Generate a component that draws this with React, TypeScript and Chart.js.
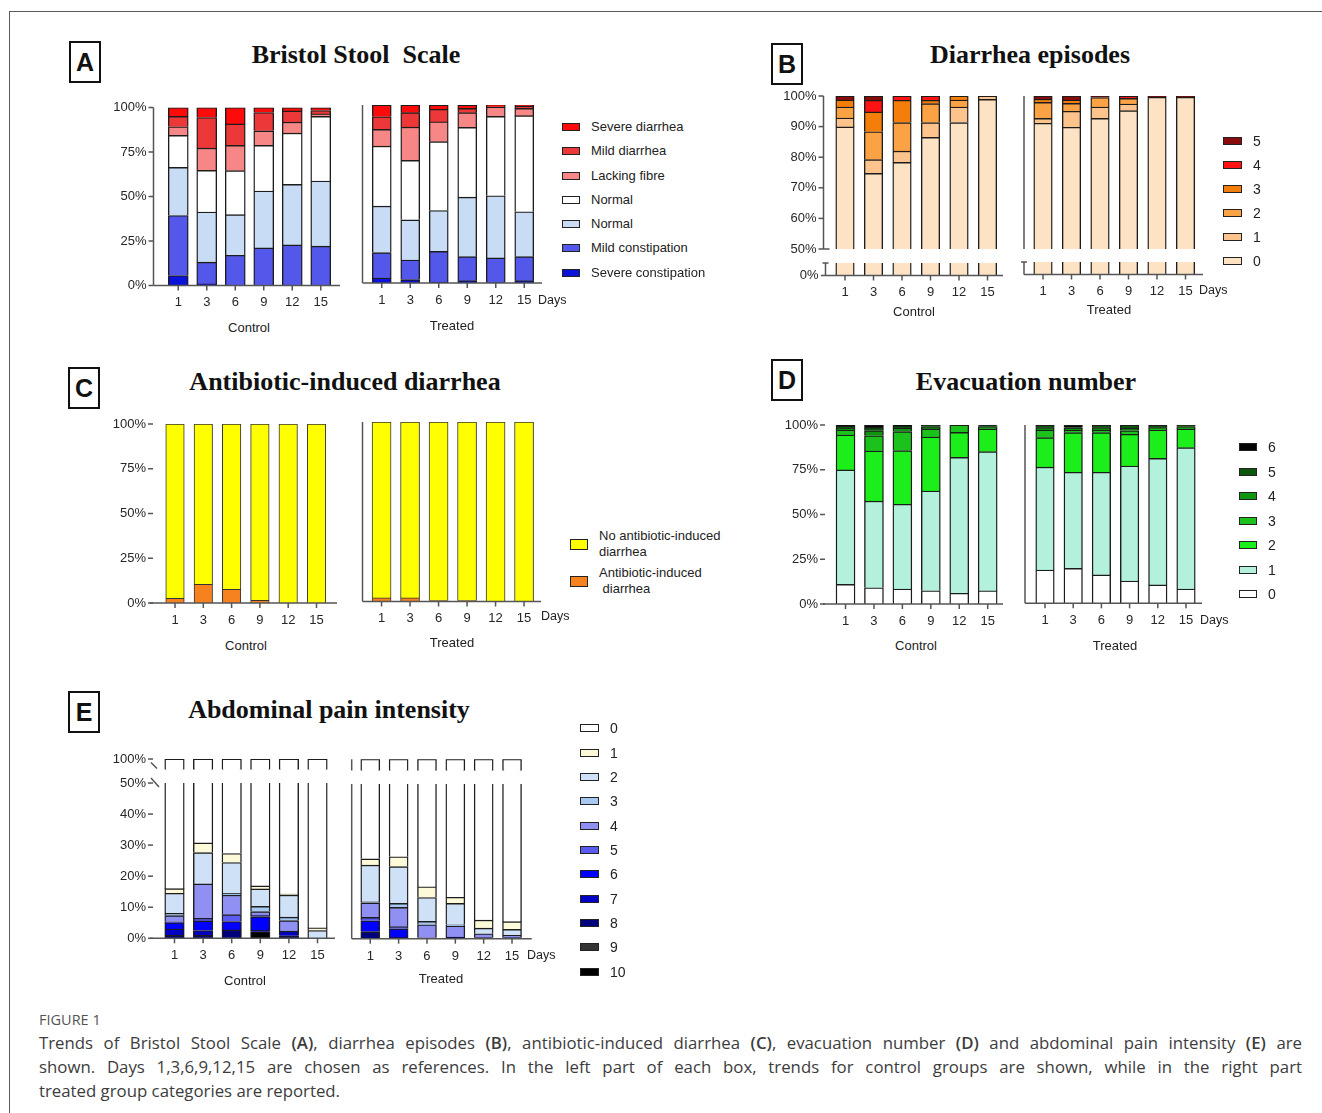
import React, { useEffect, useRef } from "react";
import { Chart, registerables } from "chart.js";
Chart.register(...registerables);

const DAYS = ["1", "3", "6", "9", "12", "15"];

// ---------- A: Bristol Stool Scale (rows bottom -> top) ----------
const BRISTOL_CATEGORIES = ["Severe constipation", "Mild constipation", "Normal", "Normal", "Lacking fibre", "Mild diarrhea", "Severe diarrhea"];
const BRISTOL_COLORS = ["#0b12d9", "#5458ea", "#c8dcf5", "#ffffff", "#f78787", "#ec3838", "#fd0a0a"];
const BRISTOL_CONTROL = [
  [5.6, 0.9, 0, 0, 0, 0],
  [33.7, 12.2, 17.0, 21.1, 22.8, 22.1],
  [27.1, 28.2, 22.8, 32.0, 34.0, 36.6],
  [17.9, 23.4, 24.7, 25.6, 28.8, 36.3],
  [4.9, 12.5, 14.2, 8.2, 6.2, 1.4],
  [5.8, 17.2, 12.1, 10.3, 6.3, 1.9],
  [5.0, 5.6, 9.2, 2.8, 1.9, 1.7],
];
const BRISTOL_TREATED = [
  [2.8, 1.9, 0.5, 1.3, 0.3, 1.3],
  [14.3, 11.0, 17.3, 13.5, 13.8, 13.5],
  [26.1, 22.6, 22.9, 33.4, 34.9, 25.2],
  [33.7, 33.4, 38.7, 39.2, 44.6, 54.0],
  [9.4, 18.7, 11.2, 8.3, 5.3, 4.1],
  [7.1, 8.1, 7.0, 2.4, 0.6, 1.3],
  [6.6, 4.3, 2.4, 1.9, 0.5, 0.6],
];

// ---------- B: Diarrhea episodes (rows 0..5, bottom -> top) ----------
const EPISODE_CATEGORIES = ["0", "1", "2", "3", "4", "5"];
const EPISODE_COLORS = ["#fde2c4", "#fcc48c", "#fba244", "#f57d0a", "#fe1212", "#8a0b0b"];
const EPISODES_CONTROL = [
  [89.9, 74.7, 78.3, 86.5, 91.3, 98.9],
  [2.9, 4.5, 3.7, 4.8, 5.1, 1.1],
  [3.6, 9.1, 9.3, 6.2, 2.3, 0],
  [2.3, 6.5, 7.3, 1.1, 1.3, 0],
  [0, 3.8, 1.4, 1.4, 0, 0],
  [1.3, 1.4, 0, 0, 0, 0],
];
const EPISODES_TREATED = [
  [91.1, 89.8, 92.7, 95.2, 99.6, 99.6],
  [1.6, 5.2, 3.7, 2.2, 0, 0],
  [5.2, 2.6, 3.1, 1.8, 0, 0],
  [1.1, 1.1, 0, 0, 0, 0],
  [0, 0, 0, 0.8, 0, 0],
  [1.0, 1.3, 0.5, 0, 0.4, 0.4],
];

// ---------- C: Antibiotic-induced diarrhea (bottom -> top) ----------
const AID_CATEGORIES = ["Antibiotic-induced\n diarrhea", "No antibiotic-induced\ndiarrhea"];
const AID_COLORS = ["#f5821f", "#ffff00"];
const AID_CONTROL = [
  [2.6, 10.4, 7.6, 1.5, 0, 0],
  [97.4, 89.6, 92.4, 98.5, 100, 100],
];
const AID_TREATED = [
  [2.0, 2.0, 0.5, 0.5, 0, 0],
  [98.0, 98.0, 99.5, 99.5, 100, 100],
];

// ---------- D: Evacuation number (rows 0..6, bottom -> top) ----------
const EVAC_CATEGORIES = ["0", "1", "2", "3", "4", "5", "6"];
const EVAC_COLORS = ["#ffffff", "#b3f1dd", "#1cee1c", "#1cc21c", "#0e940e", "#0a560a", "#050505"];
const EVAC_CONTROL = [
  [11.0, 9.1, 8.4, 7.4, 6.0, 7.4],
  [63.9, 48.4, 47.3, 55.7, 75.9, 77.7],
  [19.5, 28.0, 30.0, 30.2, 14.0, 12.7],
  [2.8, 8.5, 10.6, 4.5, 4.1, 1.3],
  [1.0, 2.8, 2.0, 1.3, 0, 0],
  [1.0, 1.9, 1.0, 0.9, 0, 0.5],
  [0.8, 1.3, 0.7, 0, 0, 0.4],
];
const EVAC_TREATED = [
  [18.7, 19.6, 15.9, 12.5, 10.3, 8.0],
  [57.7, 53.9, 57.6, 64.5, 71.0, 79.3],
  [16.5, 22.2, 22.2, 17.8, 15.9, 10.5],
  [4.3, 1.5, 1.5, 2.0, 1.3, 1.3],
  [1.3, 0.9, 1.3, 1.3, 0, 0],
  [1.5, 0.5, 1.5, 1.9, 1.5, 0.9],
  [0, 1.4, 0, 0, 0, 0],
];

// ---------- E: Abdominal pain intensity (rows 0..10; 0 is drawn on top) ----------
const PAIN_CATEGORIES = ["0", "1", "2", "3", "4", "5", "6", "7", "8", "9", "10"];
const PAIN_COLORS = ["#ffffff", "#fcfad9", "#cfe1f6", "#a7c8f1", "#9090f2", "#5b5bef", "#0000fe", "#0000c6", "#00007c", "#343434", "#000000"];
const PAIN_CONTROL = [
  [84.0, 69.3, 72.7, 83.1, 85.8, 96.6],
  [1.5, 3.1, 2.9, 1.0, 0.3, 0.9],
  [6.5, 10.1, 9.9, 5.6, 7.1, 2.5],
  [0.7, 0, 0.6, 1.7, 1.1, 0],
  [2.0, 11.1, 6.3, 1.1, 3.4, 0],
  [0.3, 0.8, 2.2, 0.5, 0, 0],
  [2.0, 3.1, 2.7, 4.4, 0, 0],
  [2.0, 1.5, 0, 0.5, 1.5, 0],
  [1.0, 1.0, 2.7, 0, 0.8, 0],
  [0, 0, 0, 0, 0, 0],
  [0, 0, 0, 2.1, 0, 0],
];
const PAIN_TREATED = [
  [74.2, 73.5, 83.2, 86.6, 94.0, 94.5],
  [2.0, 3.2, 3.5, 2.0, 2.6, 2.5],
  [11.9, 11.9, 7.7, 6.9, 1.8, 1.9],
  [0.3, 1.3, 1.1, 0.4, 0, 0],
  [4.7, 6.2, 4.2, 3.6, 1.2, 0.7],
  [1.1, 0.7, 0, 0, 0, 0],
  [3.5, 2.7, 0, 0, 0, 0],
  [0, 0.5, 0, 0, 0, 0],
  [2.3, 0, 0.3, 0.5, 0.4, 0.4],
  [0, 0, 0, 0, 0, 0],
  [0, 0, 0, 0, 0, 0],
];

const TICKS_25 = [0, 25, 50, 75, 100];
const TICKS_B_UPPER = [50, 60, 70, 80, 90, 100];
const TICKS_E_LOWER = [0, 10, 20, 30, 40, 50];

const FONT = "'Liberation Sans', Arial, sans-serif";
const AXIS_COLOR = "#555";
const TICK_SIZE = 13;

type Spec = {
  key: string;
  series: number[][];
  colors: string[];
  plotLeft: number; plotRight: number; plotTop: number; plotBottom: number;
  yMin: number; yMax: number; yTicks: number[];
  yLabels: boolean; yTickMarks: boolean;
  axisX: number; vLine: boolean; cap?: boolean; longTick?: number;
  breakTop?: boolean; breakBottom?: boolean;
  xFrom?: number; xTo?: number; xLabels: boolean;
  barThickness: number; borderWidth?: number; borderColor?: string;
};

function StackChart({ spec }: { spec: Spec }) {
  const ref = useRef<HTMLCanvasElement | null>(null);
  const LBL = 64;
  const TOPPAD = 14;
  const left = Math.floor(spec.plotLeft - LBL);
  const top = Math.floor(spec.plotTop - TOPPAD);
  const right = Math.ceil(Math.max(spec.plotRight, spec.xTo ?? 0) + 6);
  const width = right - left;
  const height = Math.ceil(spec.plotBottom + (spec.xLabels ? 30 : 12) - top);
  const below = height - (spec.plotBottom - top);

  useEffect(() => {
    const canvas = ref.current;
    if (!canvas) return;
    const sp = spec;
    const axesPlugin = {
      id: "customAxes",
      afterDraw(chart: any) {
        const ctx = chart.ctx;
        const xs = chart.scales.x;
        const ys = chart.scales.y;
        const ca = chart.chartArea;
        const ax = sp.axisX - left;
        ctx.save();
        ctx.strokeStyle = AXIS_COLOR;
        ctx.lineWidth = 1.5;
        const line = (x1: number, y1: number, x2: number, y2: number) => {
          ctx.beginPath();
          ctx.moveTo(x1, y1);
          ctx.lineTo(x2, y2);
          ctx.stroke();
        };
        if (sp.vLine) line(ax, ca.top, ax, ca.bottom);
        if (sp.cap) line(ax - 3, ca.top, ax + 3, ca.top);
        if (sp.yTickMarks) {
          sp.yTicks.forEach((v) => {
            const py = ys.getPixelForValue(v);
            line(ax - 5, py, v === sp.longTick ? ax + 6 : ax, py);
          });
        }
        if (sp.breakTop) line(ax - 2, ca.top - 5, ax + 6, ca.top + 4);
        if (sp.breakBottom) line(ax - 2, ca.bottom - 7, ax + 4, ca.bottom - 1);
        if (sp.xFrom != null && sp.xTo != null) {
          line(sp.xFrom - left, ca.bottom, sp.xTo - left, ca.bottom);
          DAYS.forEach((_, i) => {
            const px = xs.getPixelForValue(i);
            line(px, ca.bottom, px, ca.bottom + 5);
          });
        }
        ctx.restore();
      },
    };

    const chart = new Chart(canvas, {
      type: "bar",
      data: {
        labels: DAYS,
        datasets: sp.series.map((row, i) => ({
          data: row.map((v) => (v === 0 ? null : v)),
          backgroundColor: sp.colors[i],
          borderColor: sp.borderColor ?? "#1c1c1c",
          borderWidth: sp.borderWidth ?? 1.4,
          borderSkipped: "start",
          barThickness: sp.barThickness,
          clip: 0,
        })) as any,
      },
      options: {
        animation: false,
        responsive: false,
        maintainAspectRatio: false,
        devicePixelRatio: 1,
        events: [],
        layout: {
          padding: {
            left: 0,
            top: sp.plotTop - top,
            right: width - (sp.plotRight - left),
            bottom: sp.xLabels ? 0 : below,
          },
        },
        plugins: { legend: { display: false }, tooltip: { enabled: false }, title: { display: false } },
        scales: {
          x: {
            stacked: true,
            grid: { display: false, drawTicks: true, tickLength: 9.5 },
            border: { display: false },
            ticks: {
              display: sp.xLabels,
              padding: 0,
              color: "#262626",
              font: { family: FONT, size: TICK_SIZE },
              maxRotation: 0,
              autoSkip: false,
            },
            afterFit: (s: any) => {
              s.height = sp.xLabels ? below : 0;
            },
          },
          y: {
            stacked: true,
            min: sp.yMin,
            max: sp.yMax,
            grid: { display: false, drawTicks: true, tickLength: sp.plotLeft - (sp.axisX - 7) },
            border: { display: false },
            ticks: {
              display: sp.yLabels,
              padding: 0,
              color: "#262626",
              font: { family: FONT, size: TICK_SIZE },
              callback: (v: any) => v + "%",
            },
            afterBuildTicks: (s: any) => {
              s.ticks = sp.yTicks.map((v) => ({ value: v }));
            },
            afterFit: (s: any) => {
              s.width = sp.plotLeft - left;
            },
          },
        },
      } as any,
      plugins: [axesPlugin],
    });
    return () => chart.destroy();
  }, []);

  return (
    <canvas
      ref={ref}
      width={width}
      height={height}
      style={{ position: "absolute", left, top, width, height }}
    />
  );
}

const rev = <T,>(a: T[]) => [...a].reverse();

const SPECS: Spec[] = [
  // A
  {
    key: "a-c", series: BRISTOL_CONTROL, colors: BRISTOL_COLORS,
    plotLeft: 164, plotRight: 335, plotTop: 107.5, plotBottom: 285.5,
    yMin: 0, yMax: 100, yTicks: TICKS_25, yLabels: true, yTickMarks: true,
    axisX: 153.5, vLine: true, xFrom: 153.5, xTo: 340, xLabels: true, barThickness: 20,
  },
  {
    key: "a-t", series: BRISTOL_TREATED, colors: BRISTOL_COLORS,
    plotLeft: 367.5, plotRight: 538.5, plotTop: 105, plotBottom: 283,
    yMin: 0, yMax: 100, yTicks: TICKS_25, yLabels: false, yTickMarks: false,
    axisX: 362.5, vLine: true, xFrom: 362.5, xTo: 542, xLabels: true, barThickness: 19,
  },
  // B
  {
    key: "b-cu", series: EPISODES_CONTROL, colors: EPISODE_COLORS,
    plotLeft: 830.75, plotRight: 1001.75, plotTop: 96, plotBottom: 249,
    yMin: 50, yMax: 100, yTicks: TICKS_B_UPPER, yLabels: true, yTickMarks: true, longTick: 50,
    axisX: 823.5, vLine: true, xLabels: false, barThickness: 18.5,
  },
  {
    key: "b-cl", series: EPISODES_CONTROL, colors: EPISODE_COLORS,
    plotLeft: 830.75, plotRight: 1001.75, plotTop: 263, plotBottom: 275.5,
    yMin: 0, yMax: 4, yTicks: [0], yLabels: true, yTickMarks: false,
    axisX: 825.5, vLine: true, cap: true, xFrom: 821, xTo: 1003, xLabels: true, barThickness: 18.5,
  },
  {
    key: "b-tu", series: EPISODES_TREATED, colors: EPISODE_COLORS,
    plotLeft: 1028.75, plotRight: 1199.75, plotTop: 96, plotBottom: 249,
    yMin: 50, yMax: 100, yTicks: TICKS_B_UPPER, yLabels: false, yTickMarks: false,
    axisX: 1024, vLine: true, xLabels: false, barThickness: 18.5,
  },
  {
    key: "b-tl", series: EPISODES_TREATED, colors: EPISODE_COLORS,
    plotLeft: 1028.75, plotRight: 1199.75, plotTop: 262, plotBottom: 274.5,
    yMin: 0, yMax: 4, yTicks: [0], yLabels: false, yTickMarks: false,
    axisX: 1024, vLine: true, cap: true, xFrom: 1024, xTo: 1203, xLabels: true, barThickness: 18.5,
  },
  // C
  {
    key: "c-c", series: AID_CONTROL, colors: AID_COLORS,
    plotLeft: 160.85, plotRight: 330.65, plotTop: 424, plotBottom: 603,
    yMin: 0, yMax: 100, yTicks: TICKS_25, yLabels: true, yTickMarks: true,
    axisX: 153, vLine: false, xFrom: 150, xTo: 337, xLabels: true, barThickness: 18.5,
    borderWidth: 1, borderColor: "#333",
  },
  {
    key: "c-t", series: AID_TREATED, colors: AID_COLORS,
    plotLeft: 367.3, plotRight: 538.3, plotTop: 422, plotBottom: 601.5,
    yMin: 0, yMax: 100, yTicks: TICKS_25, yLabels: false, yTickMarks: false,
    axisX: 362.5, vLine: true, xFrom: 362.5, xTo: 541, xLabels: true, barThickness: 19,
    borderWidth: 1, borderColor: "#333",
  },
  // D
  {
    key: "d-c", series: EVAC_CONTROL, colors: EVAC_COLORS,
    plotLeft: 831.3, plotRight: 1001.9, plotTop: 425, plotBottom: 604,
    yMin: 0, yMax: 100, yTicks: TICKS_25, yLabels: true, yTickMarks: true,
    axisX: 825, vLine: false, xFrom: 823, xTo: 1003, xLabels: true, barThickness: 19,
  },
  {
    key: "d-t", series: EVAC_TREATED, colors: EVAC_COLORS,
    plotLeft: 1030.9, plotRight: 1200.1, plotTop: 425, plotBottom: 603.3,
    yMin: 0, yMax: 100, yTicks: TICKS_25, yLabels: false, yTickMarks: false,
    axisX: 1025, vLine: true, xFrom: 1025, xTo: 1202, xLabels: true, barThickness: 18.5,
  },
  // E
  {
    key: "e-cu", series: rev(PAIN_CONTROL), colors: rev(PAIN_COLORS),
    plotLeft: 160.2, plotRight: 331.8, plotTop: 759, plotBottom: 769.5,
    yMin: 90, yMax: 100, yTicks: [100], yLabels: true, yTickMarks: true, breakBottom: true,
    axisX: 153, vLine: false, xLabels: false, barThickness: 19.5,
  },
  {
    key: "e-cl", series: rev(PAIN_CONTROL), colors: rev(PAIN_COLORS),
    plotLeft: 160.2, plotRight: 331.8, plotTop: 783, plotBottom: 938.3,
    yMin: 0, yMax: 50, yTicks: TICKS_E_LOWER, yLabels: true, yTickMarks: true, breakTop: true,
    axisX: 153, vLine: false, xFrom: 150, xTo: 335, xLabels: true, barThickness: 19.5,
  },
  {
    key: "e-tu", series: rev(PAIN_TREATED), colors: rev(PAIN_COLORS),
    plotLeft: 356.1, plotRight: 526.2, plotTop: 759.3, plotBottom: 770.5,
    yMin: 90, yMax: 100, yTicks: [100], yLabels: false, yTickMarks: false,
    axisX: 351.7, vLine: true, xLabels: false, barThickness: 19,
  },
  {
    key: "e-tl", series: rev(PAIN_TREATED), colors: rev(PAIN_COLORS),
    plotLeft: 356.1, plotRight: 526.2, plotTop: 784, plotBottom: 938.7,
    yMin: 0, yMax: 50, yTicks: TICKS_E_LOWER, yLabels: false, yTickMarks: false,
    axisX: 351.7, vLine: true, xFrom: 351.7, xTo: 531.7, xLabels: true, barThickness: 19,
  },
];

function Txt({ x, y, children, size = 13, center = true, style = {} }: any) {
  return (
    <div
      style={{
        position: "absolute",
        left: x,
        top: y,
        transform: center ? "translate(-50%, -50%)" : "translateY(-50%)",
        whiteSpace: "pre",
        fontSize: size,
        lineHeight: 1.2,
        fontFamily: FONT,
        color: "#222",
        ...style,
      }}
    >
      {children}
    </div>
  );
}

function Legend({ x, textX, y0, step, labels, colors, size = 14, sw = 18, sh = 8, lineGap }: any) {
  return (
    <>
      {labels.map((lab: string, i: number) => {
        const y = y0 + i * step;
        return (
          <React.Fragment key={i}>
            <div
              style={{
                position: "absolute",
                left: x,
                top: y - sh / 2,
                width: sw,
                height: sh,
                boxSizing: "border-box",
                background: colors[i],
                border: "1.5px solid #222",
              }}
            />
            <div
              style={{
                position: "absolute",
                left: textX,
                top: y,
                transform: "translateY(-50%)",
                whiteSpace: "pre",
                fontSize: size,
                lineHeight: lineGap ? `${lineGap}px` : 1.2,
                fontFamily: FONT,
                color: "#222",
              }}
            >
              {lab}
            </div>
          </React.Fragment>
        );
      })}
    </>
  );
}

function Letter({ x, y, ch }: { x: number; y: number; ch: string }) {
  return (
    <div
      style={{
        position: "absolute",
        left: x,
        top: y,
        width: 32,
        height: 42,
        boxSizing: "border-box",
        border: "2.5px solid #111",
        display: "flex",
        alignItems: "center",
        justifyContent: "center",
        fontFamily: FONT,
        fontWeight: 700,
        fontSize: 25,
        color: "#111",
      }}
    >
      {ch}
    </div>
  );
}

function Title({ x, y, children }: any) {
  return (
    <div
      style={{
        position: "absolute",
        left: x,
        top: y,
        transform: "translate(-50%, -50%)",
        whiteSpace: "pre",
        fontFamily: "'Liberation Serif', 'Times New Roman', serif",
        fontWeight: 700,
        fontSize: 26,
        color: "#111",
      }}
    >
      {children}
    </div>
  );
}

const CAP_FONT = "'Open Sans', 'Noto Sans', sans-serif";

export default function App() {
  return (
    <div
      style={{
        position: "absolute",
        left: 0,
        top: 0,
        width: 1322,
        height: 1113,
        overflow: "hidden",
        background: "#fff",
      }}
    >
      <div
        style={{
          position: "absolute",
          left: 9,
          top: 11,
          width: 1400,
          height: 1200,
          borderTop: "1.5px solid #5a5a5a",
          borderLeft: "1.5px solid #5a5a5a",
        }}
      />

      <Letter x={69} y={41} ch="A" />
      <Letter x={771} y={43} ch="B" />
      <Letter x={68} y={367} ch="C" />
      <Letter x={771} y={359} ch="D" />
      <Letter x={68} y={691} ch="E" />

      <Title x={356} y={55}>{"Bristol Stool  Scale"}</Title>
      <Title x={1030} y={55}>Diarrhea episodes</Title>
      <Title x={345} y={382}>Antibiotic-induced diarrhea</Title>
      <Title x={1026} y={382}>Evacuation number</Title>
      <Title x={329} y={710}>Abdominal pain intensity</Title>

      {SPECS.map((s) => (
        <StackChart key={s.key} spec={s} />
      ))}

      {/* group labels */}
      <Txt x={249} y={328}>Control</Txt>
      <Txt x={452} y={326}>Treated</Txt>
      <Txt x={914} y={312}>Control</Txt>
      <Txt x={1109} y={310}>Treated</Txt>
      <Txt x={246} y={646}>Control</Txt>
      <Txt x={452} y={643}>Treated</Txt>
      <Txt x={916} y={646}>Control</Txt>
      <Txt x={1115} y={646}>Treated</Txt>
      <Txt x={245} y={981}>Control</Txt>
      <Txt x={441} y={979}>Treated</Txt>

      <Txt x={538} y={300} center={false} size={12.5}>Days</Txt>
      <Txt x={1199} y={290} center={false} size={12.5}>Days</Txt>
      <Txt x={541} y={616} center={false} size={12.5}>Days</Txt>
      <Txt x={1200} y={620} center={false} size={12.5}>Days</Txt>
      <Txt x={527} y={955} center={false} size={12.5}>Days</Txt>

      <Legend x={562} textX={591} y0={127} step={24.25} labels={rev(BRISTOL_CATEGORIES)} colors={rev(BRISTOL_COLORS)} size={13} />
      <Legend x={1223} textX={1253} y0={140.7} step={24.06} labels={rev(EPISODE_CATEGORIES)} colors={rev(EPISODE_COLORS)} size={14} sw={19} />
      <Legend x={570} textX={599} y0={544} step={37} labels={rev(AID_CATEGORIES)} colors={rev(AID_COLORS)} size={13} sh={11} lineGap={16} />
      <Legend x={1239} textX={1268} y0={447.3} step={24.5} labels={rev(EVAC_CATEGORIES)} colors={rev(EVAC_COLORS)} size={14} />
      <Legend x={580} textX={610} y0={728.3} step={24.34} labels={PAIN_CATEGORIES} colors={PAIN_COLORS} size={14} sw={19} />

      {/* caption */}
      <div
        style={{
          position: "absolute",
          left: 39,
          top: 1010,
          fontFamily: CAP_FONT,
          fontSize: 14.5,
          color: "#555",
          lineHeight: "20px",
        }}
      >
        FIGURE 1
      </div>
      <div
        style={{
          position: "absolute",
          left: 39,
          top: 1031,
          width: 1263,
          fontFamily: CAP_FONT,
          fontSize: 16.8,
          color: "#3c3c3c",
          lineHeight: "24px",
        }}
      >
        <div style={{ textAlign: "justify", textAlignLast: "justify", whiteSpace: "nowrap" as any }}>
          Trends of Bristol Stool Scale <b style={{ fontWeight: 600 }}>(A)</b>, diarrhea episodes{" "}
          <b style={{ fontWeight: 600 }}>(B)</b>, antibiotic-induced diarrhea <b style={{ fontWeight: 600 }}>(C)</b>, evacuation
          number <b style={{ fontWeight: 600 }}>(D)</b> and abdominal pain intensity <b style={{ fontWeight: 600 }}>(E)</b> are
        </div>
        <div style={{ textAlign: "justify", textAlignLast: "justify" }}>
          shown. Days 1,3,6,9,12,15 are chosen as references. In the left part of each box, trends for control groups are
          shown, while in the right part
        </div>
        <div>treated group categories are reported.</div>
      </div>
    </div>
  );
}
